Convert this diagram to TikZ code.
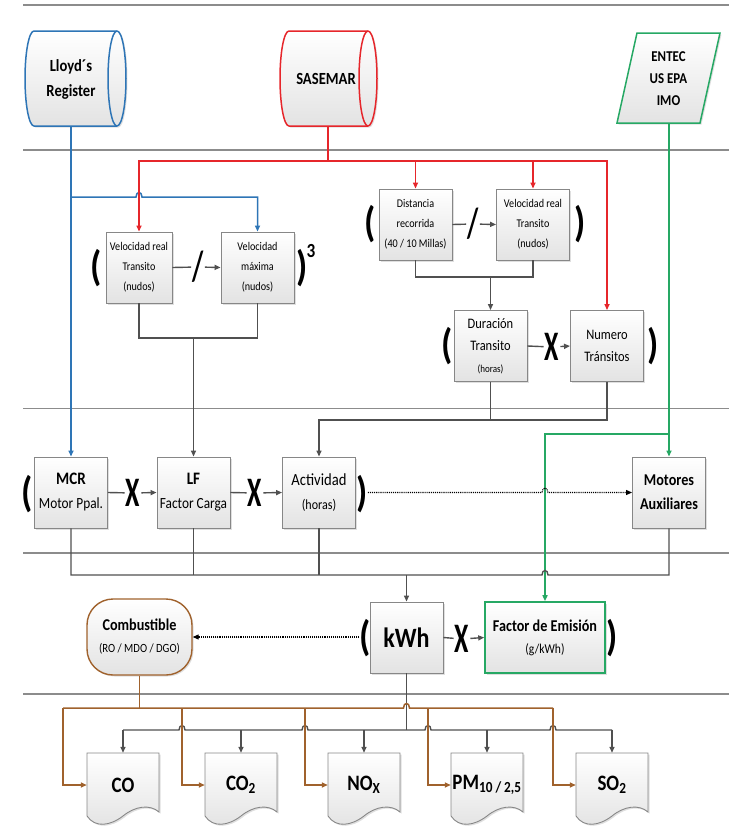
\documentclass[tikz,border=0pt]{standalone}
\usepackage{fontspec}
\setmainfont{Carlito}[FakeStretch=0.86]
\newfontfamily\opfont{Carlito}[FakeStretch=0.62]
\usetikzlibrary{arrows.meta,shadows,calc}
\definecolor{cblue}{RGB}{46,117,182}
\definecolor{cred}{RGB}{230,38,43}
\definecolor{cgreen}{RGB}{38,168,100}
\definecolor{cbrown}{RGB}{160,98,45}
\definecolor{cline}{RGB}{80,80,80}
\definecolor{csep}{RGB}{140,140,140}
\definecolor{cborder}{RGB}{135,135,135}
\newcommand\fs[2]{\fontsize{#1}{#2}\selectfont}
\begin{document}
\begin{tikzpicture}[x=1pt,y=-1pt,
  shadebox/.style={top color=white,bottom color=gray!22,
    drop shadow={shadow xshift=1.5pt,shadow yshift=-1.5pt,opacity=0.25}},
  box/.style={shadebox,draw=cborder,line width=0.9pt,rectangle,align=center,
    minimum width=73pt,minimum height=71pt,inner sep=1pt,text=black},
  small/.style={font=\fs{11.8}{20}},
  mid/.style={font=\fs{14.5}{22}},
  opx/.style={font=\opfont\fs{42}{42}\bfseries,inner sep=1pt},
  paren/.style={font=\fs{42}{42}\bfseries,inner sep=0pt},
  doctext/.style={minimum width=72pt,minimum height=64pt,inner sep=0pt,font=\fs{22}{22}\bfseries},
  docsty/.style={shadebox,draw=cborder,line width=0.9pt},
  sepline/.style={draw=csep,line width=1.2pt},
  conn/.style={draw=cline,line width=1.4pt},
  bluel/.style={draw=cblue,line width=1.5pt},
  redl/.style={draw=cred,line width=1.5pt},
  greenl/.style={draw=cgreen,line width=1.5pt},
  brownl/.style={draw=cbrown,line width=1.5pt},
  dotl/.style={draw=black,densely dotted,line width=1.1pt},
  arr/.style={-{Triangle[length=6pt,width=5pt]}}
]
\useasboundingbox (0,0) rectangle (729,830);
% separators
\draw[sepline] (23,5) -- (729,5);
\draw[sepline] (23,150) -- (729,150);
\draw[sepline] (23,408.5) -- (729,408.5);
\draw[sepline] (23,553) -- (729,553);
\draw[sepline] (23,694) -- (729,694);

% ---- top sources
\draw[shadebox,draw=cblue,line width=1.5pt] (34,31) -- (117,31) .. controls (122,31) and (126,52.3) .. (126,78.5) .. controls (126,104.7) and (122,126) .. (117,126) -- (34,126) .. controls (29,126) and (25,104.7) .. (25,78.5) .. controls (25,52.3) and (29,31) .. (34,31) -- cycle;
\draw[draw=cblue,line width=1.5pt] (117,31) .. controls (112,31) and (108,52.3) .. (108,78.5) .. controls (108,104.7) and (112,126) .. (117,126);
\node[font=\fs{17}{25}\bfseries,align=center] (lloyd) at (71,79) {Lloyd´s\\Register};
\coordinate (lloydb) at (71,126);

\draw[shadebox,draw=cred,line width=1.5pt] (289,31) -- (368,31) .. controls (373,31) and (377,52.3) .. (377,78.5) .. controls (377,104.7) and (373,126) .. (368,126) -- (289,126) .. controls (284,126) and (280,104.7) .. (280,78.5) .. controls (280,52.3) and (284,31) .. (289,31) -- cycle;
\draw[draw=cred,line width=1.5pt] (368,31) .. controls (363,31) and (359,52.3) .. (359,78.5) .. controls (359,104.7) and (363,126) .. (368,126);
\node[font=\fs{17}{25}\bfseries] (sasemar) at (326,79) {SASEMAR};
\coordinate (sasb) at (328,126);

\draw[shadebox,draw=cgreen,line width=1.5pt] (637,33) -- (720,33) -- (700,123) -- (617,123) -- cycle;
\node[font=\fs{15}{22}\bfseries,align=center] (entec) at (668.5,79) {ENTEC\\US EPA\\IMO};
\coordinate (entb) at (669,123);

% ---- second band
\node[box,small,minimum width=66pt] (vrt1) at (139,267.5) {Velocidad real\\Transito\\(nudos)};
\node[box,small] (vmax) at (257.5,267.5) {Velocidad\\máxima\\(nudos)};
\node[opx] (div1) at (198,267) {/};
\node[paren] (pal) at (96,268) {(};
\node[paren] (par) at (302,268) {)};
\node[font=\fs{20}{20}\bfseries,inner sep=0pt] (pae) at (311,251) {3};

\node[box,small] (dist) at (415.5,224.5) {Distancia\\recorrida\\(40 / 10 Millas)};
\node[box,small] (vrt2) at (533,224.5) {Velocidad real\\Transito\\(nudos)};
\node[opx] (div2) at (473,224) {/};
\node[paren] (pbl) at (370,224) {(};
\node[paren] (pbr) at (580,224) {)};

\node[box,mid] (dur) at (490.5,346) {Duración\\Transito\\{\fs{10.5}{22}(horas)}};
\node[box,mid] (num) at (607,346) {Numero\\Tránsitos};
\node[opx] (xop) at (552,347) {X};
\node[paren] (pcl) at (447,346) {(};
\node[paren] (pcr) at (653,346) {)};

% ---- third band
\node[box,font=\fs{17.5}{24}\bfseries] (mcr) at (71,492.5) {MCR\\{\fs{15.5}{24}\mdseries Motor Ppal.}};
\node[box,font=\fs{17.5}{24}\bfseries] (lf) at (193.5,492.5) {LF\\{\fs{15.5}{24}\mdseries Factor Carga}};
\node[box,font=\fs{17}{24}] (act) at (319,492.5) {Actividad\\{\fs{14}{24}(horas)}};
\node[box,font=\fs{16.5}{24}\bfseries] (aux) at (669,492.5) {Motores\\Auxiliares};
\node[opx] (xa) at (133,493) {X};
\node[opx] (xb) at (255,493) {X};
\node[paren] (pdl) at (27.5,494) {(};
\node[paren] (pdr) at (362,494) {)};

% ---- fourth band
\node[box,font=\fs{28}{28}\bfseries] (kwh) at (406.5,637.5) {kWh};
\node[box,draw=cgreen,line width=1.6pt,minimum width=120pt,font=\fs{16.5}{22}\bfseries] (fe) at (545,637.5) {Factor de Emisión\\{\fs{13.5}{22}\mdseries (g/kWh)}};
\node[opx] (xc) at (462,639) {X};
\node[paren] (pel) at (365,638) {(};
\node[paren] (per) at (612,638) {)};
\node[shadebox,draw=cbrown,line width=1.4pt,rounded corners=26pt,minimum width=105pt,minimum height=76pt,align=center,font=\fs{16.5}{22}\bfseries] (comb) at (139.5,637) {Combustible\\{\fs{12.5}{22}\mdseries (RO / MDO / DGO)}};

% ---- documents
\foreach \x in {123,241,364,487,612}{
  \draw[docsty] ({\x-36},753) -- ({\x+36},753) -- ({\x+36},812) .. controls ({\x+27},804) and ({\x+12},806) .. (\x,816) .. controls ({\x-13},826) and ({\x-28},828) .. ({\x-36},816) -- cycle;
}
\node[doctext] (co) at (123,785) {CO};
\node[doctext] (cotwo) at (241,785) {CO\textsubscript{2}};
\node[doctext] (nox) at (364,785) {NO\textsubscript{X}};
\node[doctext] (pm) at (487,785) {PM\textsubscript{10 / 2,5}};
\node[doctext] (sotwo) at (612,785) {SO\textsubscript{2}};

% ---- connectors: blue
\coordinate (bj) at (71,197);
\draw[bluel,arr] (lloydb) -- (mcr.north);
\draw[bluel,arr] (bj) -- (136,197) .. controls (136,191) and (142,191) .. (142,197) -| (vmax.north);
% red
\coordinate (rj) at (328,161);
\draw[redl] (sasb) -- (rj);
\draw[redl,arr] (rj) -| (vrt1.north);
\draw[redl,arr] (rj) -| (num.north);
\draw[redl,arr] (dist.north |- rj) -- (dist.north);
\draw[redl,arr] (vrt2.north |- rj) -- (vrt2.north);
% green
\coordinate (gj) at (669,434);
\draw[greenl,arr] (entb) -- (aux.north);
\draw[greenl,arr] (gj) -| (fe.north);

% gray, second band
\draw[conn] (vrt1.east) -- (div1);
\draw[conn,arr] (div1) -- (vmax.west);
\coordinate (j1) at (193.5,338);
\draw[conn] (vrt1.south) |- (j1) -| (vmax.south);
\draw[conn,arr] (j1) -- (lf.north);
\draw[conn] (dist.east) -- (div2);
\draw[conn,arr] (div2) -- (vrt2.west);
\coordinate (j2) at (490.5,277);
\draw[conn] (dist.south) |- (j2) -| (vrt2.south);
\draw[conn,arr] (j2) -- (dur.north);
\draw[conn] (dur.east) -- (xop);
\draw[conn,arr] (xop) -- (num.west);
\coordinate (j3) at (490.5,420);
\draw[conn] (dur.south) -- (j3);
\draw[conn,arr] (num.south) |- (act.north |- j3) -- (act.north);

% third band
\draw[conn] (mcr.east) -- (xa);
\draw[conn,arr] (xa) -- (lf.west);
\draw[conn] (lf.east) -- (xb);
\draw[conn,arr] (xb) -- (act.west);
\draw[dotl,arr] (pdr.east |- aux.west) -- (542,492.5) .. controls (542,486.5) and (548,486.5) .. (548,492.5) -- (aux.west);
\coordinate (kj) at (406.5,575);
\draw[conn] (mcr.south) |- (542,575) .. controls (542,569) and (548,569) .. (548,575) -| (aux.south);
\draw[conn] (lf.south) -- (lf.south |- kj);
\draw[conn] (act.south) -- (act.south |- kj);
\draw[conn,arr] (kj) -- (kwh.north);

% fourth band
\draw[conn] (kwh.east) -- (xc);
\draw[conn,arr] (xc) -- (fe.west);
\draw[dotl,arr] (pel.west |- comb.east) -- (comb.east);

% bottom: gray bus
\coordinate (gk) at (406.5,730);
\draw[conn] (kwh.south) -- (gk);
\draw[conn] (co.north |- gk) -- (179,730) .. controls (179,724) and (185,724) .. (185,730) -- (302,730) .. controls (302,724) and (308,724) .. (308,730) -- (425,730) .. controls (425,724) and (431,724) .. (431,730) -- (550,730) .. controls (550,724) and (556,724) .. (556,730) -- (sotwo.north |- gk);
\foreach \d in {co,cotwo,nox,pm,sotwo}{\draw[conn,arr] (\d.north |- gk) -- (\d.north);}
% brown bus
\coordinate (brj) at (139.5,708);
\draw[brownl] (comb.south) -- (brj);
\coordinate (b1) at (63,708);
\coordinate (b2) at (182,708);
\coordinate (b3) at (305,708);
\coordinate (b4) at (428,708);
\coordinate (b5) at (553,708);
\draw[brownl] (b1) -- (403.5,708) .. controls (403.5,702) and (409.5,702) .. (409.5,708) -- (b5);
\draw[brownl,arr] (b1) |- (co.west);
\draw[brownl,arr] (b2) |- (cotwo.west);
\draw[brownl,arr] (b3) |- (nox.west);
\draw[brownl,arr] (b4) |- (pm.west);
\draw[brownl,arr] (b5) |- (sotwo.west);
\end{tikzpicture}
\end{document}
